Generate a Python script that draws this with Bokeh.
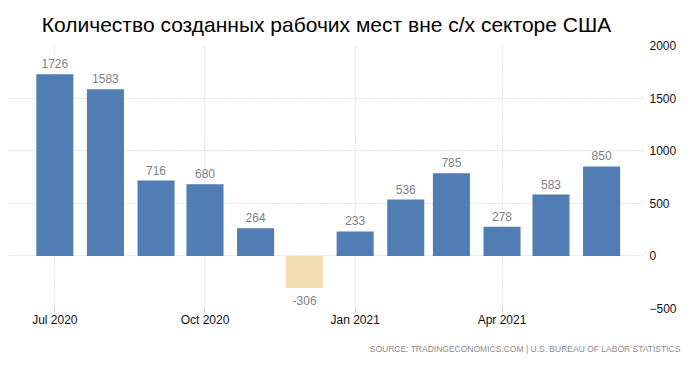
import pandas as pd
from datetime import timedelta
from bokeh.plotting import figure
from bokeh.models import (ColumnDataSource, Range1d, FixedTicker, LabelSet, Title,
                          DatetimeTickFormatter)
from bokeh.core.properties import value
from bokeh.embed import file_html
from bokeh.resources import INLINE

# ---- data ----
months = ["2020-07-01", "2020-08-01", "2020-09-01", "2020-10-01", "2020-11-01", "2020-12-01",
          "2021-01-01", "2021-02-01", "2021-03-01", "2021-04-01", "2021-05-01", "2021-06-01"]
values = [1726, 1583, 716, 680, 264, -306, 233, 536, 785, 278, 583, 850]
x_tick_months = ["2020-07-01", "2020-10-01", "2021-01-01", "2021-04-01"]
y_ticks = [-500, 0, 500, 1000, 1500, 2000]
title_text = "Количество созданных рабочих мест вне с/х секторе США"
source_text = "SOURCE: TRADINGECONOMICS.COM | U.S. BUREAU OF LABOR STATISTICS"

POS_COLOR = "#517db5"
NEG_COLOR = "#f3deb2"
LABEL_COLOR = "#7f7f86"
GRID_COLOR = "#c8c8c8"

dates = pd.to_datetime(months)
colors = [POS_COLOR if v >= 0 else NEG_COLOR for v in values]
src = ColumnDataSource(dict(x=dates, top=values, color=colors, label=[str(v) for v in values]))

pos = [i for i, v in enumerate(values) if v >= 0]
neg = [i for i, v in enumerate(values) if v < 0]
src_pos = ColumnDataSource(dict(x=[dates[i] for i in pos], y=[values[i] for i in pos],
                                label=[str(values[i]) for i in pos]))
src_neg = ColumnDataSource(dict(x=[dates[i] for i in neg], y=[values[i] for i in neg],
                                label=[str(values[i]) for i in neg]))

x_start = dates[0] - timedelta(days=28.4)
x_end = dates[0] + timedelta(days=361.3)

p = figure(width=689, height=365, output_backend="svg", toolbar_location=None,
           x_axis_type="datetime", y_axis_location="right",
           x_range=Range1d(x_start, x_end), y_range=Range1d(-500, 2000),
           min_border_left=8, min_border_right=45, min_border_top=45, min_border_bottom=56)
p.outline_line_color = None
p.background_fill_color = "white"
p.border_fill_color = "white"

bar_w = 22.7 * 24 * 3600 * 1000
p.vbar(x="x", top="top", bottom=0, width=bar_w, color="color", line_color=None, source=src)

lbl_font = "Liberation Sans"
p.add_layout(LabelSet(x="x", y="y", text="label", source=src_pos, text_align="center",
                      text_baseline="bottom", y_offset=6, text_font_size=value("12px"),
                      text_color=LABEL_COLOR, text_font=value(lbl_font)))
p.add_layout(LabelSet(x="x", y="y", text="label", source=src_neg, text_align="center",
                      text_baseline="top", y_offset=-8, text_font_size=value("12px"),
                      text_color=LABEL_COLOR, text_font=value(lbl_font)))

# x axis
xax = p.xaxis[0]
xax.ticker = FixedTicker(ticks=[pd.Timestamp(m).value / 1e6 for m in x_tick_months])
xax.formatter = DatetimeTickFormatter(months="%b %Y", days="%b %Y", years="%b %Y")
xax.axis_line_color = None
xax.major_tick_in = 0
xax.major_tick_out = 4
xax.major_tick_line_color = GRID_COLOR
xax.minor_tick_line_color = None
xax.major_label_standoff = 0
xax.major_label_text_font = lbl_font
xax.major_label_text_font_size = "12px"
xax.major_label_text_color = "#111111"

# y axis
yax = p.yaxis[0]
yax.ticker = FixedTicker(ticks=y_ticks)
yax.axis_line_color = None
yax.major_tick_line_color = None
yax.minor_tick_line_color = None
yax.major_tick_in = 0
yax.major_tick_out = 0
yax.major_label_standoff = 5
yax.major_label_text_font = lbl_font
yax.major_label_text_font_size = "12px"
yax.major_label_text_color = "#111111"

for g in (p.xgrid[0], p.ygrid[0]):
    g.grid_line_color = GRID_COLOR
    g.grid_line_dash = "1 2"
    g.grid_line_width = 1

p.title.text = title_text
p.title.align = "center"
p.title.text_font = "Liberation Sans"
p.title.text_font_size = "21px"
p.title.text_font_style = "normal"
p.title.text_color = "#000000"
p.title.standoff = 20

src_title = Title(text=source_text, align="right", offset=-36, text_font="Liberation Sans",
                  text_font_size="8.5px", text_font_style="normal", text_color="#8c8c8c",
                  standoff=24)
p.add_layout(src_title, "below")

open("out.html", "w").write(file_html(p, INLINE))
